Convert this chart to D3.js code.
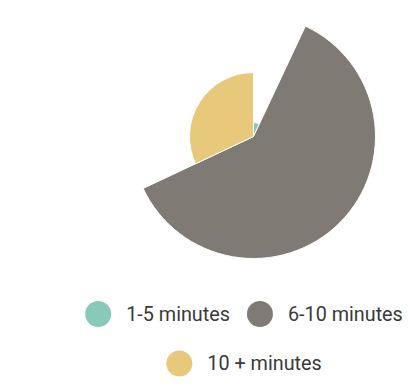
<!DOCTYPE html>
<html><head><meta charset="utf-8">
<script src="https://cdn.jsdelivr.net/npm/d3@7"></script>
<style>html,body{margin:0;padding:0;background:#fff;}svg{display:block;font-family:Roboto,"Noto Sans",sans-serif;}</style>
</head><body>
<svg id="c" width="409" height="385"></svg>
<script>
const categories = ["1-5 minutes", "6-10 minutes", "10 + minutes"];
const values = [7, 61, 32];
const colors = ["#88c9b9", "#7f7a74", "#e8c87a"];

const svg = d3.select("#c");
const cx = 253.5, cy = 136.5, maxR = 122;
const data = categories.map((c, i) => ({cat: c, value: values[i], color: colors[i]}));
const rScale = d3.scaleLinear().domain([0, d3.max(values)]).range([0, maxR]);
const pie = d3.pie().sort(null).value(d => d.value);
const arc = d3.arc().innerRadius(0).outerRadius(d => rScale(d.data.value));
const g = svg.append("g").attr("transform", `translate(${cx},${cy})`);
g.selectAll("path").data(pie(data)).join("path")
  .attr("d", arc).attr("fill", d => d.data.color)
  .attr("stroke", "#fff").attr("stroke-width", 1);

// legend
const rows = [[0, 1], [2]];
const rowY = [314, 363.5];
const legendCx = 244, mR = 13, textGap = 15, itemGap = 17, fs = 19.8;
rows.forEach((row, ri) => {
  const lg = svg.append("g");
  let x = 0;
  row.forEach((idx, k) => {
    const it = lg.append("g").attr("transform", `translate(${x},0)`);
    it.append("circle").attr("cx", mR).attr("cy", 0).attr("r", mR).attr("fill", colors[idx]);
    const t = it.append("text").attr("x", 2 * mR + textGap).attr("y", 0).attr("dy", "0.35em")
      .attr("font-size", fs).attr("fill", "#3a3a3a").text(categories[idx]);
    const w = t.node().getComputedTextLength();
    x += 2 * mR + textGap + w + itemGap;
  });
  const total = x - itemGap;
  lg.attr("transform", `translate(${legendCx - total / 2},${rowY[ri]})`);
});
</script>
</body></html>
